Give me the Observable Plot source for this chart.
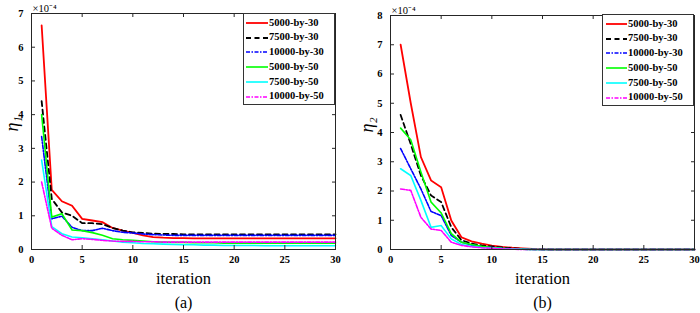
<!DOCTYPE html>
<html>
<head>
<meta charset="utf-8">
<script src="https://cdn.jsdelivr.net/npm/d3@7"></script>
<script src="https://cdn.jsdelivr.net/npm/@observablehq/plot@0.6"></script>
<style>
  body { margin: 0; background: #fff; }
  #wrap { position: relative; width: 700px; height: 313px; background: #fff; overflow: hidden; }
  .panel { position: absolute; top: 0; }
  .legend { position: absolute; box-sizing: border-box; border: 1px solid #333; background: #fff;
            font: bold 10.5px "Liberation Serif", serif; color: #000; padding-top: 1.5px; }
  .legend .row { height: 14.8px; line-height: 14.8px; white-space: nowrap; display: flex; align-items: center; }
  .legend svg { flex: none; margin-right: 1px; }
</style>
</head>
<body>
<div id="wrap">
  <div id="pa" class="panel" style="left:0px"></div>
  <div id="pb" class="panel" style="left:350px"></div>
  <div id="la" class="legend" style="left:243px;top:13px;width:92px;height:92px"></div>
  <div id="lb" class="legend" style="left:602px;top:14px;width:92px;height:92px"></div>
</div>
<script>
// ---- data (values in units of 1e-4) ----
const iterations = [1,2,3,4,5,6,7,8,9,10,11,12,13,14,15,16,17,18,19,20,21,22,23,24,25,26,27,28,29,30];
const seriesNames = ["5000-by-30","7500-by-30","10000-by-30","5000-by-50","7500-by-50","10000-by-50"];
const xTicks = [0,5,10,15,20,25,30];
const yTicksA = [0,1,2,3,4,5,6,7];
const yTicksB = [0,1,2,3,4,5,6,7,8];

// panel (a): eta_1
const a_5000_30 = [6.65,1.77,1.43,1.30,0.91,0.86,0.81,0.64,0.56,0.49,
                   0.42,0.37,0.35,0.34,0.34,0.33,0.33,0.33,0.33,0.33,
                   0.33,0.33,0.33,0.33,0.33,0.33,0.33,0.33,0.33,0.33];
const a_7500_30 = [4.40,1.50,1.10,1.00,0.78,0.78,0.75,0.64,0.56,0.51,
                   0.49,0.47,0.46,0.46,0.45,0.45,0.45,0.45,0.45,0.45,
                   0.45,0.45,0.45,0.45,0.45,0.45,0.45,0.45,0.45,0.45];
const a_10000_30 = [3.35,0.91,0.99,0.66,0.56,0.56,0.63,0.56,0.51,0.49,
                    0.46,0.44,0.43,0.42,0.42,0.42,0.42,0.42,0.42,0.42,
                    0.42,0.42,0.42,0.42,0.42,0.42,0.42,0.42,0.42,0.42];
const a_5000_50 = [4.00,0.96,1.06,0.58,0.56,0.50,0.42,0.32,0.29,0.27,
                   0.25,0.23,0.22,0.21,0.21,0.20,0.20,0.20,0.19,0.19,
                   0.19,0.19,0.19,0.19,0.19,0.19,0.19,0.19,0.19,0.19];
const a_7500_50 = [2.65,0.68,0.47,0.37,0.35,0.32,0.29,0.25,0.22,0.20,
                   0.18,0.17,0.16,0.15,0.14,0.14,0.13,0.13,0.12,0.12,
                   0.12,0.12,0.11,0.11,0.11,0.11,0.11,0.11,0.11,0.11];
const a_10000_50 = [2.00,0.63,0.42,0.29,0.32,0.30,0.27,0.25,0.24,0.24,
                    0.23,0.23,0.22,0.22,0.22,0.22,0.22,0.22,0.22,0.22,
                    0.22,0.22,0.22,0.22,0.22,0.22,0.22,0.22,0.22,0.22];

// panel (b): eta_2
const b_5000_30 = [7.00,5.00,3.16,2.36,2.13,0.99,0.42,0.28,0.20,0.13,
                   0.09,0.06,0.04,0.02,0.01,0,0,0,0,0,
                   0,0,0,0,0,0,0,0,0,0];
const b_7500_30 = [4.60,3.60,2.53,1.85,1.62,0.76,0.32,0.20,0.14,0.10,
                   0.07,0.04,0.02,0.01,0,0,0,0,0,0,
                   0,0,0,0,0,0,0,0,0,0];
const b_10000_30 = [3.45,2.76,2.07,1.30,1.16,0.48,0.25,0.15,0.10,0.07,
                    0.04,0.02,0.01,0,0,0,0,0,0,0,
                    0,0,0,0,0,0,0,0,0,0];
const b_5000_50 = [4.15,3.75,2.65,1.62,1.25,0.54,0.25,0.17,0.11,0.07,
                   0.04,0.02,0.01,0,0,0,0,0,0,0,
                   0,0,0,0,0,0,0,0,0,0];
const b_7500_50 = [2.76,2.53,1.68,0.76,0.82,0.36,0.17,0.11,0.07,0.05,
                   0.03,0.02,0.01,0,0,0,0,0,0,0,
                   0,0,0,0,0,0,0,0,0,0];
const b_10000_50 = [2.07,2.02,1.10,0.70,0.65,0.25,0.14,0.09,0.06,0.04,
                    0.02,0.01,0,0,0,0,0,0,0,0,
                    0,0,0,0,0,0,0,0,0,0];

// ---- styles ----
const colors = ["#ff0000","#000000","#0000ff","#00ff00","#00ffff","#ff00ff"];
const dashes = [null,"5,3.5","4,1.5,1.5,1.5",null,null,"4,1.5,1.5,1.5"];
const widths = [1.8,1.8,1.6,1.6,1.6,1.6];
const frameColor = "#262626";
const FONT = "'Liberation Serif', 'Times New Roman', serif";
const fmt = d => String(d);

function table(arrays) {
  const rows = [];
  arrays.forEach((arr, s) => arr.forEach((v, i) => rows.push({it: iterations[i], v, s: seriesNames[s]})));
  return rows;
}

function panel({arrays, yTicks, yMax, ml, mr, mt, ylab, ydx, tag}) {
  const data = table(arrays);
  const lines = seriesNames.map((name, k) =>
    Plot.line(data.filter(d => d.s === name), {
      x: "it", y: "v", stroke: colors[k], strokeWidth: widths[k],
      strokeDasharray: dashes[k] ?? undefined, strokeLinejoin: "miter", strokeMiterlimit: 2
    }));
  return Plot.plot({
    width: 350, height: 313,
    marginLeft: ml, marginRight: mr, marginTop: mt, marginBottom: 313 - 249,
    style: {fontFamily: FONT, fontSize: "10.5px", fontWeight: "bold", background: "transparent", overflow: "visible", color: "#000"},
    x: {domain: [0, 30]},
    y: {domain: [0, yMax]},
    marks: [
      ...lines,
      Plot.frame({stroke: frameColor, strokeWidth: 1}),
      Plot.axisX({ticks: xTicks, tickFormat: fmt, tickSize: -4, tickPadding: 10, label: null, stroke: frameColor}),
      Plot.axisX({anchor: "top", ticks: xTicks, tickSize: -3, tickFormat: () => "", label: null, stroke: frameColor}),
      Plot.axisY({ticks: yTicks, tickFormat: fmt, tickSize: -4, tickPadding: 12, label: null, stroke: frameColor}),
      Plot.axisY({anchor: "right", ticks: yTicks, tickSize: -4, tickFormat: () => "", label: null, stroke: frameColor}),
      Plot.text(["iteration"], {text: d => d, frameAnchor: "bottom", dy: 34, lineAnchor: "bottom", fontSize: 16.5, fontWeight: "normal"}),
      Plot.text([tag], {text: d => d, frameAnchor: "bottom", dy: 58, lineAnchor: "bottom", fontSize: 16, fontWeight: "normal"}),
      Plot.text([ylab], {text: d => d, frameAnchor: "left", dx: ydx, rotate: -90, fontSize: 18, fontStyle: "italic", fontWeight: "normal"}),
      Plot.text(["\u00d710\u207b\u2074"], {text: d => d, frameAnchor: "top-left", textAnchor: "start", lineAnchor: "bottom", dx: 1, dy: -2, fontSize: 10.5, fontWeight: "normal"})
    ]
  });
}

document.getElementById("pa").append(panel({
  arrays: [a_5000_30, a_7500_30, a_10000_30, a_5000_50, a_7500_50, a_10000_50],
  yTicks: yTicksA, yMax: 7, ml: 31, mr: 15, mt: 13, ylab: "\u03b7\u2081", ydx: -19, tag: "(a)"
}));
document.getElementById("pb").append(panel({
  arrays: [b_5000_30, b_7500_30, b_10000_30, b_5000_50, b_7500_50, b_10000_50],
  yTicks: yTicksB, yMax: 8, ml: 40, mr: 6, mt: 15, ylab: "\u03b7\u2082", ydx: -23, tag: "(b)"
}));

function legend(id, lineW, ml) {
  const el = document.getElementById(id);
  seriesNames.forEach((name, k) => {
    const row = document.createElement("div");
    row.className = "row";
    row.innerHTML = `<svg width="${lineW + ml}" height="4" style="margin-right:1px"><line x1="${ml}" x2="${ml + lineW}" y1="2" y2="2" stroke="${colors[k]}" stroke-width="${widths[k]}" ${dashes[k] ? `stroke-dasharray="${dashes[k]}"` : ""}/></svg><span>${name}</span>`;
    el.append(row);
  });
}
legend("la", 22, 2);
legend("lb", 21, 3);
</script>
</body>
</html>
